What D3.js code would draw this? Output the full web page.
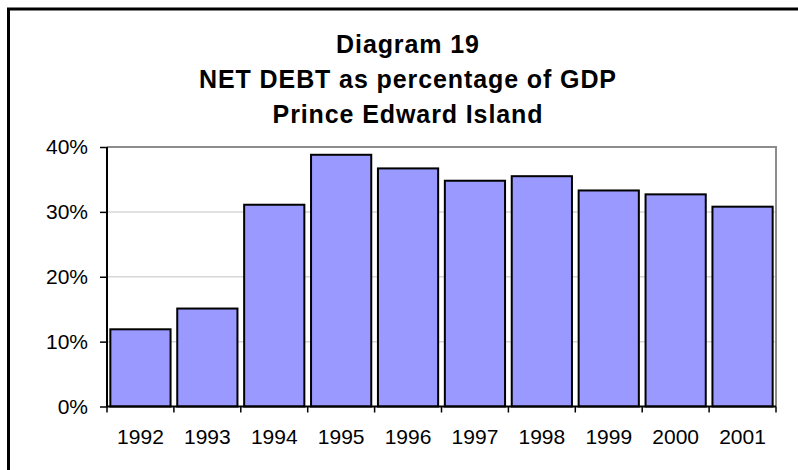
<!DOCTYPE html>
<html>
<head>
<meta charset="utf-8">
<script src="https://cdn.jsdelivr.net/npm/d3@7"></script>
<style>
  body { margin: 0; background: #fff; }
  #chart { width: 798px; height: 470px; }
</style>
</head>
<body>
<div id="chart"></div>
<script>
// Chart data
const years = ['1992', '1993', '1994', '1995', '1996', '1997', '1998', '1999', '2000', '2001'];
const netDebt = [11.9, 15.1, 31.1, 38.8, 36.7, 34.8, 35.5, 33.3, 32.7, 30.8];
const yTicks = [0, 10, 20, 30, 40];
const titleLines = ['Diagram 19', 'NET DEBT as percentage of GDP', 'Prince Edward Island'];

const W = 798, H = 470;
const margin = { top: 147, right: 22, bottom: 63.5, left: 107 };
const width = W - margin.left - margin.right;
const height = H - margin.top - margin.bottom;

const svg = d3.select('#chart').append('svg')
  .attr('width', W)
  .attr('height', H);

// Outer frame (runs off the right and bottom edges)
svg.append('rect')
  .attr('x', 8.5).attr('y', 9)
  .attr('width', 820).attr('height', 500)
  .attr('fill', 'none')
  .attr('stroke', '#000')
  .attr('stroke-width', 3);

// Title
svg.append('g')
  .selectAll('text')
  .data(titleLines)
  .join('text')
    .attr('x', 408)
    .attr('y', (d, i) => 53 + i * 35)
    .attr('text-anchor', 'middle')
    .style('font', 'bold 25px "Liberation Sans", Arial, sans-serif')
    .style('letter-spacing', '0.9px')
    .text(d => d);

const chart = svg.append('g')
  .attr('transform', `translate(${margin.left}, ${margin.top})`);

const x = d3.scaleBand()
  .domain(years)
  .range([0, width])
  .paddingInner(0.1)
  .paddingOuter(0.05);

const y = d3.scaleLinear()
  .domain([0, 40])
  .range([height, 0]);

// Gridlines
chart.append('g')
  .selectAll('line')
  .data(yTicks.filter(t => t > 0 && t < 40))
  .join('line')
    .attr('x1', 0).attr('x2', width)
    .attr('y1', d => y(d)).attr('y2', d => y(d))
    .attr('stroke', '#d6d6d6')
    .attr('stroke-width', 1.5);

// Plot frame top and right
chart.append('path')
  .attr('d', `M0,${y(40)}H${width}V${height}`)
  .attr('fill', 'none')
  .attr('stroke', '#8c8c8c')
  .attr('stroke-width', 2);

// Bars
chart.append('g')
  .selectAll('rect')
  .data(netDebt)
  .join('rect')
    .attr('x', (d, i) => x(years[i]))
    .attr('y', d => y(d))
    .attr('width', x.bandwidth())
    .attr('height', d => height - y(d))
    .attr('fill', '#9999ff')
    .attr('stroke', '#000')
    .attr('stroke-width', 2);

// Y axis
const yAxis = chart.append('g')
  .call(d3.axisLeft(y).tickValues(yTicks).tickFormat(d => d + '%').tickSize(7).tickPadding(12));

// X axis with ticks at category boundaries
const xAxis = chart.append('g')
  .attr('transform', `translate(0, ${height})`)
  .call(d3.axisBottom(x).tickSize(0).tickPadding(23));

xAxis.selectAll('.boundary')
  .data(d3.range(years.length + 1))
  .join('line')
    .attr('class', 'boundary')
    .attr('x1', i => i * x.step()).attr('x2', i => i * x.step())
    .attr('y1', 0).attr('y2', 6)
    .attr('stroke', '#000')
    .attr('stroke-width', 1.5);

[yAxis, xAxis].forEach(ax => {
  ax.select('.domain').attr('stroke', '#000').attr('stroke-width', 2);
  ax.selectAll('.tick line').attr('stroke', '#000').attr('stroke-width', 1.5);
  ax.selectAll('text')
    .attr('fill', '#000')
    .style('font', '21px "Liberation Sans", Arial, sans-serif');
});
xAxis.select('.domain').attr('d', `M0,0H${width}`);
yAxis.select('.domain').attr('d', `M0,0V${height}`);
</script>
</body>
</html>
